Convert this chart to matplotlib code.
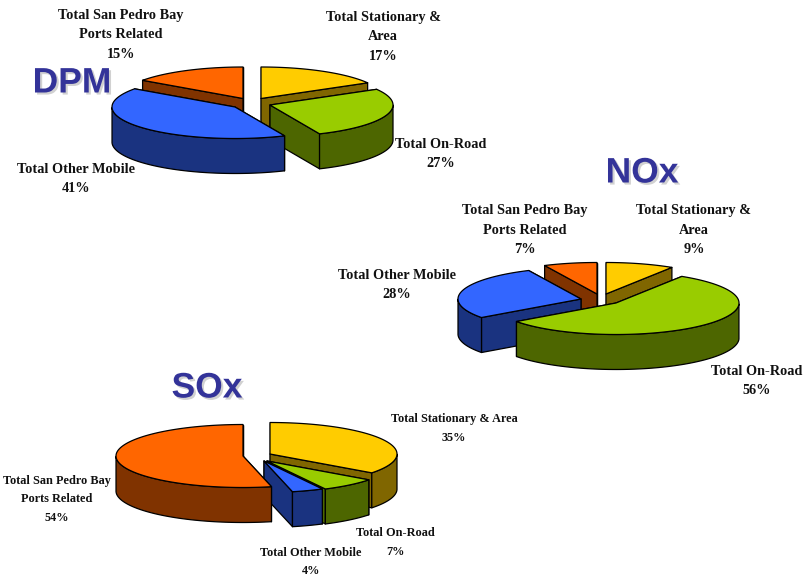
import matplotlib
matplotlib.use("Agg")
import matplotlib.pyplot as plt
import matplotlib.patheffects as pe
import numpy as np

# share of each source, clockwise from 12 o'clock
dpm_values = [16.7, 26.7, 41.4, 15.2]
nox_values = [9, 56, 28, 7]
sox_values = [35.2, 7.2, 4.0, 53.6]

dpm_labels = ["Total Stationary &\nArea", "Total On-Road", "Total Other Mobile", "Total San Pedro Bay\nPorts Related"]
nox_labels = ["Total Stationary &\nArea", "Total On-Road", "Total Other Mobile", "Total San Pedro Bay\nPorts Related"]
sox_labels = ["Total Stationary & Area", "Total On-Road", "Total Other Mobile", "Total San Pedro Bay\nPorts Related"]

top_colors = ["#FFCC00", "#99CC00", "#3366FF", "#FF6600"]
side_colors = ["#806600", "#4D6600", "#1A3380", "#803300"]

RY = 31.5
DEPTH = 35


# draws one tilted exploded pie, tips are the slice apexes in pixels
def drawPie(ax, values, tips, order, rx):
    shares = np.array(values, dtype=float)
    edges = np.concatenate([[0], np.cumsum(shares) / shares.sum() * 2 * np.pi])

    for i in order:
        cx, cy = tips[i]
        t = np.linspace(edges[i], edges[i + 1], 120)
        x = cx + rx * np.sin(t)
        y = cy - RY * np.cos(t)

        # the two cut faces, the one further back goes first
        for k in sorted([0, -1], key=lambda n: y[n]):
            fx = [cx, x[k], x[k], cx]
            fy = [cy, y[k], y[k] + DEPTH, cy + DEPTH]
            ax.fill(fx, fy, fc=side_colors[i], ec="black", lw=0.9, joinstyle="round")

        # outer wall, only the front part of the rim shows
        front = np.cos(t) <= 0
        if front.sum() > 1:
            wx = np.concatenate([x[front], x[front][::-1]])
            wy = np.concatenate([y[front], y[front][::-1] + DEPTH])
            ax.fill(wx, wy, fc=side_colors[i], ec="black", lw=0.9, joinstyle="round")

        ax.fill(np.concatenate([[cx], x]), np.concatenate([[cy], y]),
                fc=top_colors[i], ec="black", lw=0.9, joinstyle="round")


# pie labels, name lines then the rounded percent
def drawLabels(ax, labels, values, places, size, spacing):
    for name, v, (px, py) in zip(labels, values, places):
        ax.text(px, py, "%s\n%.0f%%" % (name, v), ha="center", va="center", fontsize=size,
                family="Liberation Serif", weight="bold", color="#111111", linespacing=spacing)


def drawTitle(ax, text, x, y):
    ax.text(x, y, text, ha="center", va="center", fontsize=25.5, family="Liberation Sans",
            weight="bold", color="#333399",
            path_effects=[pe.withSimplePatchShadow(offset=(1.5, -1.5), shadow_rgbFace="#999999", alpha=0.45)])


fig = plt.figure(figsize=(8.08, 5.76), dpi=100)
ax = fig.add_axes([0, 0, 1, 1])
ax.set_xlim(0, 808)
ax.set_ylim(576, 0)
ax.axis("off")

drawPie(ax, dpm_values, [(261, 98.5), (270, 105), (235, 107), (243, 98.5)], [3, 0, 1, 2], 123)
drawPie(ax, nox_values, [(606, 294), (616, 303), (581, 299), (597, 294)], [0, 3, 2, 1], 123)
drawPie(ax, sox_values, [(270, 454), (267, 461), (264, 461), (243, 456)], [0, 1, 2, 3], 127)

drawLabels(ax, dpm_labels, dpm_values, [(383, 37), (441, 154), (76, 179), (121, 35)], 10.3, 1.63)
drawLabels(ax, nox_labels, nox_values, [(694, 230), (757, 381), (397, 285), (525, 230)], 10.3, 1.63)
drawLabels(ax, sox_labels, sox_values, [(454, 428.5), (395, 542.5), (311, 562), (57, 499.5)], 8.8, 1.7)

drawTitle(ax, "DPM", 72, 83)
drawTitle(ax, "NOx", 642, 173)
drawTitle(ax, "SOx", 207, 388)

fig.savefig("out.png", dpi=100)
